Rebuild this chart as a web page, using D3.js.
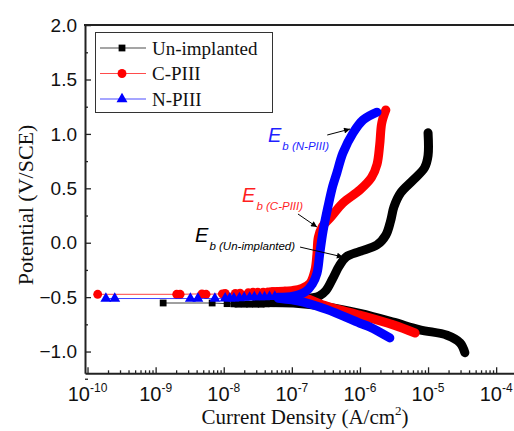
<!DOCTYPE html>
<html><head><meta charset="utf-8">
<script src="https://cdn.jsdelivr.net/npm/d3@7/dist/d3.min.js"></script>
<style>body{margin:0;background:#fff}</style>
</head><body>
<svg id="chart" width="514" height="431"></svg>
<script>
// ---------- data (current density A/cm², potential V/SCE) ----------
const seriesNames = ["Un-implanted", "C-PIII", "N-PIII"];
const seriesColors = ["#000000", "#ff0000", "#0000ff"];
const seriesSymbols = ["square", "circle", "triangle"];

const unCathodic = [[3.0e-8,-0.55],[3.39e-8,-0.55],[1.05e-7,-0.555],[3.31e-7,-0.59],[1.0e-6,-0.65],[3.09e-6,-0.73],[7.59e-6,-0.80],[1.9e-5,-0.85],[2.95e-5,-0.92],[3.47e-5,-1.01]];
const unAnodic = [[5.0e-8,-0.54],[1.26e-7,-0.52],[2.51e-7,-0.49],[3.16e-7,-0.44],[3.98e-7,-0.33],[5.0e-7,-0.21],[6.3e-7,-0.13],[1.0e-6,-0.08],[1.78e-6,-0.02],[2.4e-6,0.07],[2.82e-6,0.20],[3.16e-6,0.33],[3.98e-6,0.46],[6.03e-6,0.575],[8.9e-6,0.69],[1.0e-5,0.80],[1.0e-5,1.01]];
const unEcorr = [[1.29e-9,-0.554],[6.76e-9,-0.554],[1.12e-8,-0.56],[1.41e-8,-0.562],[1.62e-8,-0.565],[2.0e-8,-0.565],[2.4e-8,-0.565],[2.95e-8,-0.565],[3.55e-8,-0.565],[4.2e-8,-0.562],[5.0e-8,-0.56]];

const cCathodic = [[7.9e-8,-0.48],[1.26e-7,-0.50],[1.58e-7,-0.51],[3.31e-7,-0.585],[1.0e-6,-0.665],[3.09e-6,-0.755],[6.46e-6,-0.83]];
const cAnodic = [[5.0e-8,-0.45],[1.0e-7,-0.44],[1.41e-7,-0.42],[1.86e-7,-0.37],[2.19e-7,-0.25],[2.34e-7,-0.10],[2.45e-7,0.05],[2.82e-7,0.15],[3.8e-7,0.24],[5.62e-7,0.365],[1.0e-6,0.485],[1.48e-6,0.60],[1.78e-6,0.72],[1.95e-6,0.90],[2.09e-6,1.10],[2.4e-6,1.22]];
const cEcorr = [[1.41e-10,-0.474],[2.04e-9,-0.474],[2.29e-9,-0.474],[4.79e-9,-0.47],[5.5e-9,-0.474],[9.55e-9,-0.47],[1.05e-8,-0.465],[1.48e-8,-0.465],[1.74e-8,-0.463],[2.29e-8,-0.46],[2.69e-8,-0.455],[3.16e-8,-0.455],[3.8e-8,-0.455],[4.47e-8,-0.452],[5.25e-8,-0.45],[6.3e-8,-0.448],[7.9e-8,-0.446]];

const nCathodic = [[6.3e-8,-0.51],[1.0e-7,-0.525],[1.48e-7,-0.545],[3.31e-7,-0.615],[1.0e-6,-0.74],[1.41e-6,-0.775],[2.75e-6,-0.875]];
const nAnodic = [[6.3e-8,-0.50],[1.05e-7,-0.49],[1.58e-7,-0.45],[2.0e-7,-0.38],[2.34e-7,-0.28],[2.57e-7,-0.10],[2.88e-7,0.11],[3.39e-7,0.33],[3.98e-7,0.52],[4.57e-7,0.64],[5.62e-7,0.825],[7.94e-7,1.01],[1.12e-6,1.13],[1.78e-6,1.20]];
const nEcorr = [[1.86e-10,-0.513],[2.51e-10,-0.513],[3.24e-9,-0.513],[4.17e-9,-0.513],[7.41e-9,-0.513],[1.05e-8,-0.51],[1.23e-8,-0.51],[1.41e-8,-0.51],[1.7e-8,-0.508],[2.0e-8,-0.505],[2.4e-8,-0.503],[2.82e-8,-0.50],[3.39e-8,-0.50],[3.98e-8,-0.50],[4.7e-8,-0.498],[5.62e-8,-0.495]];

const xTickExponents = [-10, -9, -8, -7, -6, -5, -4];
const yTickValues = [-1.0, -0.5, 0.0, 0.5, 1.0, 1.5, 2.0];
const xTitle = "Current Density (A/cm";
const yTitle = "Potential (V/SCE)";

const annotations = [
  {sub: "b (N-PIII)", color: "#1f1fff", at: [4.47e-8, 0.925], from: [3.31e-7, 0.99], to: [7.16e-7, 1.045]},
  {sub: "b (C-PIII)", color: "#ff1f1f", at: [1.86e-8, 0.374], from: [1.23e-7, 0.264], to: [2.34e-7, 0.144]},
  {sub: "b (Un-implanted)", color: "#000000", at: [3.8e-9, 0.006], from: [1.32e-7, -0.04], to: [5.62e-7, -0.131]}
];

const series = [
  {cath: unCathodic, anod: unAnodic, ecorr: unEcorr},
  {cath: cCathodic, anod: cAnodic, ecorr: cEcorr},
  {cath: nCathodic, anod: nAnodic, ecorr: nEcorr}
];

// ---------- chart ----------
const svg = d3.select("#chart");
const sans = "'Liberation Sans', Arial, sans-serif";
const serif = "'Liberation Serif', 'Times New Roman', serif";

const x = d3.scaleLog().domain([Math.pow(10, -10.037), Math.pow(10, -3.6)]).range([85, 523.4]);
const y = d3.scaleLinear().domain([-1.2, 2.0]).range([373.3, 25.1]);

const defs = svg.append("defs");
defs.append("marker").attr("id", "arrow").attr("viewBox", "0 0 10 10")
  .attr("refX", 10).attr("refY", 5).attr("markerWidth", 7).attr("markerHeight", 6)
  .attr("markerUnits", "userSpaceOnUse").attr("orient", "auto")
  .append("path").attr("d", "M0,0 L10,5 L0,10 z").attr("fill", "#000");

function symbolPath(kind, size) {
  const t = kind === "square" ? d3.symbolSquare : kind === "circle" ? d3.symbolCircle : d3.symbolTriangle;
  return d3.symbol().type(t).size(size)();
}
const symSize = {square: 46, circle: 62, triangle: 52};

const line = d3.line().x(d => x(d[0])).y(d => y(d[1])).curve(d3.curveCatmullRom.alpha(0.5));

series.forEach((s, i) => {
  const col = seriesColors[i];
  const g = svg.append("g");
  [s.cath, s.anod].forEach(br => {
    g.append("path").attr("d", line(br)).attr("fill", "none").attr("stroke", col)
      .attr("stroke-width", 9).attr("stroke-linecap", "round").attr("stroke-linejoin", "round");
  });
  g.append("path").attr("d", d3.line().x(d => x(d[0])).y(d => y(d[1]))(s.ecorr))
    .attr("fill", "none").attr("stroke", col).attr("stroke-width", 1).attr("opacity", 0.75);
  g.selectAll("path.m").data(s.ecorr).join("path").attr("class", "m")
    .attr("d", symbolPath(seriesSymbols[i], symSize[seriesSymbols[i]]))
    .attr("transform", d => `translate(${x(d[0])},${y(d[1])})`)
    .attr("fill", col);
});

// ---------- axes ----------
const axisCol = "#222";
const yAxis = svg.append("g").attr("transform", "translate(85,0)")
  .call(d3.axisLeft(y).tickValues(yTickValues).tickSize(-6).tickSizeOuter(0).tickPadding(8).tickFormat(d3.format(".1f")));
svg.append("g").attr("transform", "translate(85,0)")
  .call(d3.axisLeft(y).tickValues(d3.range(-1.25, 2.0, 0.5)).tickSize(-3).tickSizeOuter(0).tickFormat(""))
  .select(".domain").remove();
yAxis.selectAll("text").attr("font-family", sans).attr("font-size", 19).attr("fill", "#111");

const decades = xTickExponents.map(e => Math.pow(10, e));
const minors = [];
xTickExponents.forEach(e => { for (let k = 2; k <= 9; k++) { const v = k * Math.pow(10, e); if (v < x.domain()[1]) minors.push(v); } });
const xAxis = svg.append("g").attr("transform", "translate(0,373.3)")
  .call(d3.axisBottom(x).tickValues(decades).tickSize(-6).tickSizeOuter(0).tickFormat(""));
svg.append("g").attr("transform", "translate(0,373.3)")
  .call(d3.axisBottom(x).tickValues(minors).tickSize(-3).tickSizeOuter(0).tickFormat(""))
  .select(".domain").remove();

[yAxis, xAxis].forEach(a => a.select(".domain").attr("stroke", axisCol).attr("stroke-width", 2));
svg.selectAll(".tick line").attr("stroke", axisCol).attr("stroke-width", 1.3);

// top frame
svg.append("line").attr("x1", 84).attr("x2", 514).attr("y1", y(2.0)).attr("y2", y(2.0))
  .attr("stroke", axisCol).attr("stroke-width", 2);

// x tick labels 10^n
xTickExponents.forEach(e => {
  const t = svg.append("text").attr("x", x(Math.pow(10, e))).attr("y", 401)
    .attr("text-anchor", "middle").attr("font-family", sans).attr("fill", "#111");
  t.append("tspan").attr("font-size", 20).text("10");
  t.append("tspan").attr("font-size", 12).attr("dy", -9).text(String(e));
});

// axis titles
const xt = svg.append("text").attr("x", 305).attr("y", 424).attr("text-anchor", "middle")
  .attr("font-family", serif).attr("font-size", 21).attr("fill", "#111");
xt.append("tspan").text(xTitle);
xt.append("tspan").attr("font-size", 13).attr("dy", -9).text("2");
xt.append("tspan").attr("dy", 9).text(")");

svg.append("text").attr("transform", "translate(33,205) rotate(-90)").attr("text-anchor", "middle")
  .attr("font-family", serif).attr("font-size", 22).attr("fill", "#111").text(yTitle);

// annotations
annotations.forEach(a => {
  const t = svg.append("text").attr("x", x(a.at[0])).attr("y", y(a.at[1]))
    .attr("font-family", sans).attr("font-style", "italic").attr("fill", a.color);
  t.append("tspan").attr("font-size", 20).text("E");
  t.append("tspan").attr("font-size", 11.5).attr("dx", 1).attr("dy", 8).text(a.sub);
  svg.append("line").attr("x1", x(a.from[0])).attr("y1", y(a.from[1]))
    .attr("x2", x(a.to[0])).attr("y2", y(a.to[1]))
    .attr("stroke", "#000").attr("stroke-width", 1).attr("marker-end", "url(#arrow)");
});

// legend
const lg = svg.append("g");
lg.append("rect").attr("x", 95.5).attr("y", 32.5).attr("width", 177).attr("height", 80)
  .attr("fill", "#fff").attr("stroke", "#333").attr("stroke-width", 1);
seriesNames.forEach((n, i) => {
  const cy = 48 + i * 25.5;
  lg.append("line").attr("x1", 100).attr("x2", 146).attr("y1", cy).attr("y2", cy)
    .attr("stroke", seriesColors[i]).attr("stroke-width", 1).attr("opacity", 0.7);
  lg.append("path").attr("d", symbolPath(seriesSymbols[i], symSize[seriesSymbols[i]]))
    .attr("transform", `translate(122,${cy})`).attr("fill", seriesColors[i]);
  lg.append("text").attr("x", 152).attr("y", cy + 6.5).attr("font-family", serif)
    .attr("font-size", 19).attr("fill", "#111").text(n);
});
</script>
</body></html>
